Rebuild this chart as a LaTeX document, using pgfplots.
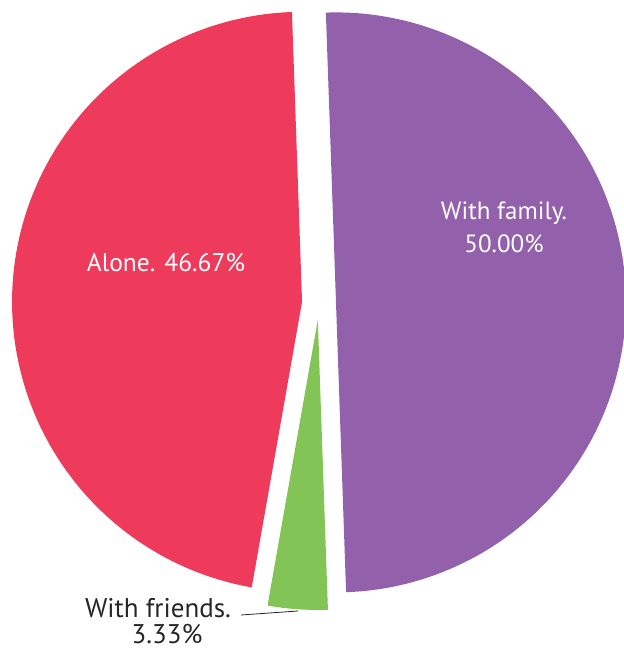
\documentclass[border=0pt]{standalone}
\usepackage{pgfplots}
\usepackage{pgfplotstable}
\pgfplotsset{compat=1.18}
\usepackage{fontspec}
\setmainfont{PT Sans}
\definecolor{cAlone}{HTML}{EF3B5B}
\definecolor{cFamily}{HTML}{9360AB}
\definecolor{cFriends}{HTML}{83C457}
\definecolor{cText}{HTML}{262626}

\pgfplotstableread{
name value
family 50.00
friends 3.33
alone 46.67
}\piedata

\begin{document}
\begin{tikzpicture}
\pgfplotstablegetelem{0}{value}\of\piedata \let\vFam\pgfplotsretval
\pgfplotstablegetelem{1}{value}\of\piedata \let\vFri\pgfplotsretval
\pgfplotstablegetelem{2}{value}\of\piedata \let\vAlo\pgfplotsretval
\pgfmathsetmacro\aS{92}
\pgfmathsetmacro\aA{\aS-3.6*\vFam}
\pgfmathsetmacro\aB{\aA-3.6*\vFri}
\pgfmathsetmacro\aC{\aB-3.6*\vAlo}
\def\cx{319}\def\cy{348}\def\R{290}\def\ex{17}
\pgfmathsetmacro\mFam{(\aS+\aA)/2}
\pgfmathsetmacro\mFri{(\aA+\aB)/2}
\pgfmathsetmacro\mAlo{(\aB+\aC)/2}
\pgfmathsetmacro\xFam{\cx+\ex*cos(\mFam)}\pgfmathsetmacro\yFam{\cy+\ex*sin(\mFam)}
\pgfmathsetmacro\xFri{\cx+\ex*cos(\mFri)}\pgfmathsetmacro\yFri{\cy+\ex*sin(\mFri)}
\pgfmathsetmacro\xAlo{\cx+\ex*cos(\mAlo)}\pgfmathsetmacro\yAlo{\cy+\ex*sin(\mAlo)}
\begin{axis}[scale only axis, width=624pt, height=651pt,
  xmin=0, xmax=624, ymin=0, ymax=651, hide axis, clip=true]
\path (rel axis cs:0,0) rectangle (rel axis cs:1,1);
\addplot[draw=none, fill=cFamily, domain=\aA:\aS, samples=150]
  ({\xFam+\R*cos(x)}, {\yFam+\R*sin(x)}) -- (axis cs:\xFam,\yFam) -- cycle;
\addplot[draw=none, fill=cFriends, domain=\aB:\aA, samples=20]
  ({\xFri+\R*cos(x)}, {\yFri+\R*sin(x)}) -- (axis cs:\xFri,\yFri) -- cycle;
\addplot[draw=none, fill=cAlone, domain=\aC:\aB, samples=150]
  ({\xAlo+\R*cos(x)}, {\yAlo+\R*sin(x)}) -- (axis cs:\xAlo,\yAlo) -- cycle;
\addplot[cText, line width=0.8pt] coordinates {(241,36) (298,40)};
\node[white, anchor=base, font=\fontsize{25.5}{30}\selectfont] at (axis cs:166,379) {Alone. 46.67\%};
\node[white, anchor=base, font=\fontsize{25}{30}\selectfont] at (axis cs:504,431) {With family.};
\node[white, anchor=base, font=\fontsize{25}{30}\selectfont] at (axis cs:504,398) {50.00\%};
\node[cText, anchor=base, font=\fontsize{27}{30}\selectfont] at (axis cs:158,34) {With friends.};
\node[cText, anchor=base, font=\fontsize{27}{30}\selectfont] at (axis cs:167,7) {3.33\%};
\end{axis}
\end{tikzpicture}
\end{document}
